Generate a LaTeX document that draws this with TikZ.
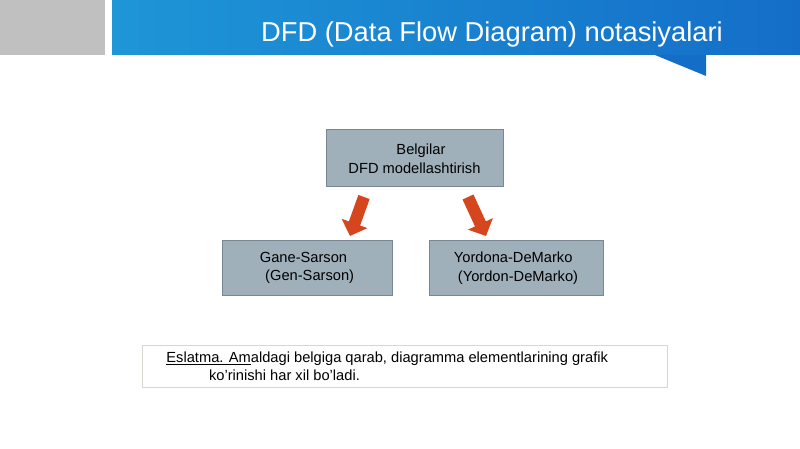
\documentclass[tikz,border=0pt]{standalone}
\usepackage{fontspec}
\setmainfont{Liberation Sans}
\usetikzlibrary{arrows.meta}
\definecolor{boxfill}{RGB}{160,176,186}
\definecolor{boxline}{RGB}{120,135,145}
\definecolor{arrowred}{RGB}{214,70,30}
\definecolor{bannerblue}{RGB}{30,150,215}
\definecolor{bannerdark}{RGB}{20,110,200}
\tikzset{every picture/.style={line width=0.75pt}}
\tikzset{
  notebox/.style={draw=boxline,fill=boxfill,inner sep=0pt,font=\fontsize{11}{14}\selectfont},
  fatarrow/.style={line width=9pt,-{Triangle[length=10pt,width=20pt]},draw=arrowred,fill=arrowred}
}
\begin{document}
\begin{tikzpicture}[x=0.75pt,y=0.75pt,yscale=-1,xscale=1]
    \useasboundingbox (0,0) rectangle (800,449);
    % banner
    \fill [color={rgb, 255:red, 192; green, 192; blue, 192 }] (0,0) rectangle (105,55);
    \shade [left color=bannerblue,right color=bannerdark] (112,0) rectangle (800,55);
    \fill [bannerdark] (655,55) -- (706,55) -- (706,76) -- cycle;
    \node (title) at (492,34) [text=white,font=\fontsize{20.5}{24}\selectfont] {DFD (Data Flow Diagram) notasiyalari};
    % boxes
    \node (belgi) at (414.5,158.5) [notebox,minimum width=132.75pt,minimum height=42.75pt,align=left] {\hspace*{36pt}Belgilar\\DFD modellashtirish};
    \node (gane) at (307,268) [notebox,minimum width=127.5pt,minimum height=40.5pt,align=left] {Gane-Sarson\\\hspace*{4pt}(Gen-Sarson)};
    \node (yord) at (516,268) [notebox,minimum width=130.5pt,minimum height=40.5pt,align=left] {Yordona-DeMarko\\\hspace*{3pt}(Yordon-DeMarko)};
    % arrows
    \coordinate (la) at (364,197);
    \coordinate (lb) at (350,236);
    \coordinate (ra) at (468,197);
    \coordinate (rb) at (486,236);
    \draw [fatarrow] (la) -- (lb);
    \draw [fatarrow] (ra) -- (rb);
    % note
    \node (note) at (404.5,366) [draw={rgb, 255:red, 215; green, 215; blue, 205 },minimum width=393.75pt,minimum height=31.5pt,inner sep=0pt] {};
    \node (notetext) at (note.west) [anchor=west,xshift=15pt,align=left,font=\fontsize{11}{13.5}\selectfont] {\underline{Eslatma. Am}aldagi belgiga qarab, diagramma elementlarining grafik\\\hspace*{32pt}ko'rinishi har xil bo'ladi.};
\end{tikzpicture}
\end{document}
